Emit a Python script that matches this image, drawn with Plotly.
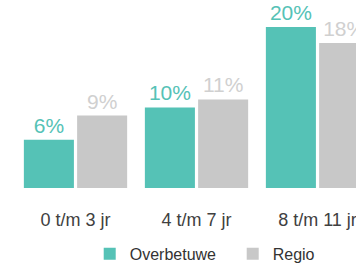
import plotly.graph_objects as go

categories = ["0 t/m 3 jr", "4 t/m 7 jr", "8 t/m 11 jr"]
overbetuwe = [6, 10, 20]
regio = [9, 11, 18]
series_names = ["Overbetuwe", "Regio"]

teal = "#55c2b6"
gray = "#c8c8c8"
gray_text = "#d0d0d0"
font_family = "Arial, Liberation Sans, sans-serif"

fig = go.Figure()
fig.add_trace(go.Bar(
    x=categories, y=overbetuwe, name=series_names[0],
    marker=dict(color=teal, line=dict(width=0)),
    text=[f"{v}%" for v in overbetuwe], textposition="outside",
    textfont=dict(color=teal, size=21, family=font_family),
    cliponaxis=False,
))
fig.add_trace(go.Bar(
    x=categories, y=regio, name=series_names[1],
    marker=dict(color=gray, line=dict(width=0)),
    text=[f"{v}%" for v in regio], textposition="outside",
    textfont=dict(color=gray_text, size=21, family=font_family),
    cliponaxis=False,
))

fig.update_layout(
    width=356, height=263,
    margin=dict(l=0, r=0, t=0, b=75, autoexpand=False),
    paper_bgcolor="white", plot_bgcolor="white",
    barmode="group", bargap=0.12, bargroupgap=0.06,
    font=dict(family=font_family, color="#404040"),
    showlegend=True,
    legend=dict(
        orientation="h", x=0.252, xanchor="left",
        yref="container", y=0.035, yanchor="middle",
        font=dict(size=16, color="#333333"),
        entrywidth=98, entrywidthmode="pixels",
        bgcolor="rgba(0,0,0,0)",
    ),
)
fig.update_xaxes(
    range=[-0.624, 2.318], showgrid=False, showline=False, zeroline=False,
    ticks="outside", ticklen=0, ticklabelstandoff=15, automargin=False,
    tickfont=dict(size=18, color="#404040"),
)
fig.update_yaxes(
    range=[0, 23.35], visible=False, showgrid=False, zeroline=False,
    automargin=False,
)

fig.write_html(
    "out.html",
    config={"displayModeBar": False},
    post_script="document.body.style.margin='0';document.body.style.overflow='hidden';",
)
